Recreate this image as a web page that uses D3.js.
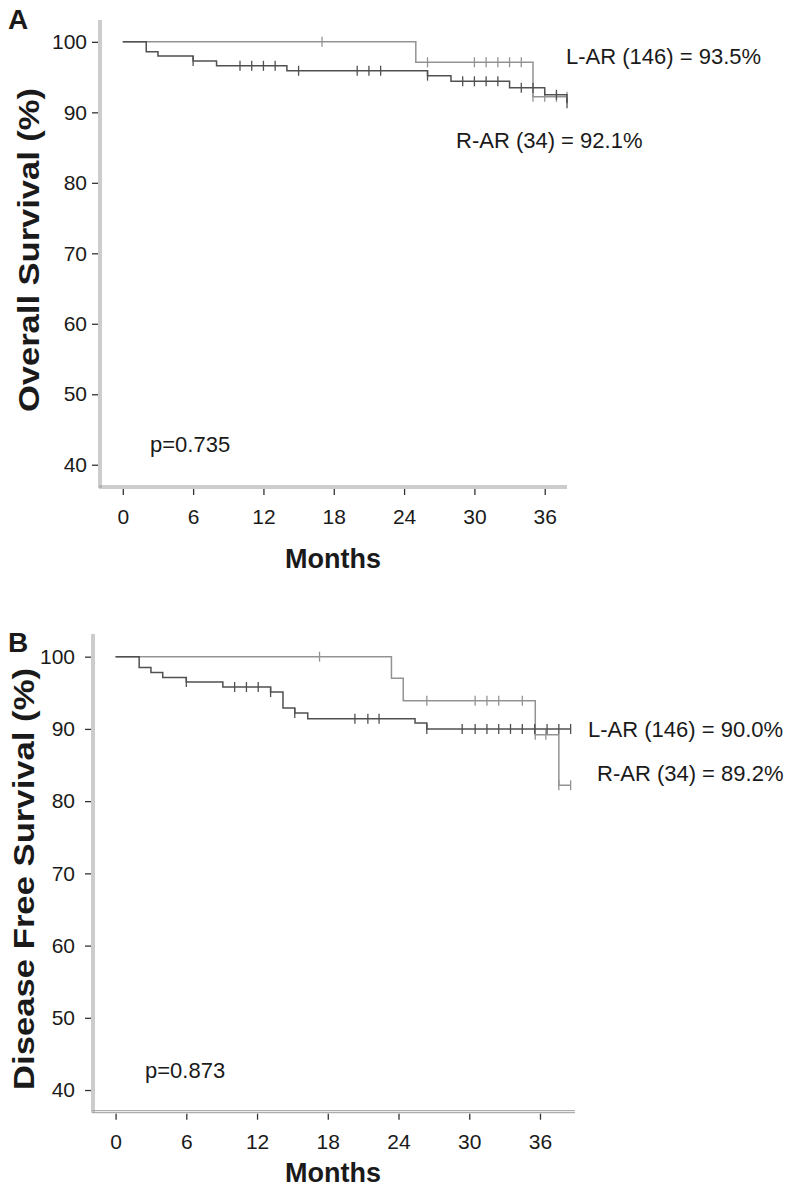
<!DOCTYPE html>
<html><head><meta charset="utf-8">
<script src="https://cdn.jsdelivr.net/npm/d3@7"></script>
<style>body{margin:0;background:#fff} svg{display:block} text{font-family:"Liberation Sans",Arial,Helvetica,sans-serif;fill:#1a1a1a}</style>
</head><body><svg id="c" width="786" height="1187"></svg>
<script>
// ---- shared ticks ----
const monthTicks = [0, 6, 12, 18, 24, 30, 36];
const survTicks = [40, 50, 60, 70, 80, 90, 100];

// ---- Panel A: Overall Survival ----
const osLarTimes = [0, 2, 3, 6, 8, 14, 26, 28, 33, 36, 37.9];
const osLarSurv = [100, 98.6, 98.0, 97.3, 96.6, 95.9, 95.2, 94.4, 93.5, 92.5, 91.3];
const osLarEnd = 37.9;
const osLarCensor = [6, 10, 11, 12, 13, 15, 20, 21, 22, 26, 29, 30, 31, 32, 34, 35, 37, 37.9];
const osRarTimes = [0, 25, 35];
const osRarSurv = [100, 97.1, 92.2];
const osRarEnd = 37.9;
const osRarCensor = [17, 26, 30, 31, 32, 33, 34, 35, 36, 37, 37.9];

// ---- Panel B: Disease Free Survival ----
const dfsLarTimes = [0, 2, 3, 4, 6, 9.1, 13.15, 14.2, 15.2, 16.3, 25.4, 26.4];
const dfsLarSurv = [100, 98.5, 97.8, 97.1, 96.5, 95.8, 95.1, 92.9, 92.2, 91.4, 90.8, 90.0];
const dfsLarEnd = 38.6;
const dfsLarCensor = [6, 10.1, 11.1, 12.1, 13.15, 15.2, 20.3, 21.4, 22.35, 26.4, 29.4, 30.5, 31.5, 32.5, 33.5, 34.5, 35.55, 36.6, 37.6, 38.6];
const dfsRarTimes = [0, 23.4, 24.4, 35.6, 37.6];
const dfsRarSurv = [100, 97.0, 93.9, 89.2, 82.2];
const dfsRarEnd = 38.6;
const dfsRarCensor = [17.3, 26.4, 30.5, 31.5, 32.5, 34.5, 35.6, 36.5, 37.6, 38.6];

const svg = d3.select("#c");
const DARK = "#505050", LIGHT = "#939393";

function survAt(times, surv, t) {
  let v = surv[0];
  for (let i = 0; i < times.length; i++) if (times[i] <= t) v = surv[i];
  return v;
}

function panel(cfg) {
  const g = svg.append("g");
  const x = d3.scaleLinear().domain(cfg.xDom).range(cfg.xRange);
  const y = d3.scaleLinear().domain(cfg.yDom).range(cfg.yRange);
  const [x0, x1] = cfg.xRange, [yb, yt] = cfg.yRange;
  // double-line axes
  [0, 2].forEach(o => {
    g.append("line").attr("x1", x0 + o).attr("x2", x0 + o).attr("y1", yt).attr("y2", yb)
      .attr("stroke", "#9a9a9a").attr("stroke-width", 1);
    g.append("line").attr("x1", x0).attr("x2", x1).attr("y1", yb - o).attr("y2", yb - o)
      .attr("stroke", "#9a9a9a").attr("stroke-width", 1);
  });
  // y axis ticks
  const ya = d3.axisLeft(y).tickValues(survTicks).tickSize(6).tickPadding(cfg.yPad);
  const yg = g.append("g").attr("transform", `translate(${x0 - 1},0)`).call(ya);
  yg.select(".domain").remove();
  yg.selectAll(".tick line").attr("stroke", "#333").attr("stroke-width", 1.3);
  yg.selectAll(".tick text").style("font-size", "21px").attr("fill", "#1a1a1a");
  // x axis ticks
  const xa = d3.axisBottom(x).tickValues(monthTicks).tickSize(6).tickPadding(cfg.xPad);
  const xg = g.append("g").attr("transform", `translate(0,${yb + 1})`).call(xa);
  xg.select(".domain").remove();
  xg.selectAll(".tick line").attr("stroke", "#333").attr("stroke-width", 1.3);
  xg.selectAll(".tick text").style("font-size", "21px").attr("fill", "#1a1a1a");

  const line = d3.line().x(d => x(d[0])).y(d => y(d[1])).curve(d3.curveStepAfter);
  cfg.series.forEach(s => {
    const pts = s.times.map((t, i) => [t, s.surv[i]]);
    pts.push([s.end, s.surv[s.surv.length - 1]]);
    g.append("path").attr("d", line(pts)).attr("fill", "none")
      .attr("stroke", s.color).attr("stroke-width", 1.5);
    g.selectAll(null).data(s.censor).enter().append("line")
      .attr("x1", d => x(d)).attr("x2", d => x(d))
      .attr("y1", d => y(survAt(s.times, s.surv, d)) - 5)
      .attr("y2", d => y(survAt(s.times, s.surv, d)) + 5)
      .attr("stroke", s.color).attr("stroke-width", 1.3);
  });
  // texts
  g.append("text").attr("x", cfg.letter[0]).attr("y", cfg.letter[1]).text(cfg.letterText)
    .style("font-size", "28px").style("font-weight", "bold");
  g.append("text").attr("x", cfg.months[0]).attr("y", cfg.months[1]).attr("text-anchor", "middle")
    .text("Months").style("font-size", "27px").style("font-weight", "bold");
  g.append("text").attr("transform", `translate(${cfg.ytitle[0]},${cfg.ytitle[1]}) rotate(-90)`)
    .attr("text-anchor", "middle").text(cfg.ytitleText)
    .attr("textLength", cfg.ytitle[2]).attr("lengthAdjust", "spacingAndGlyphs")
    .style("font-size", "30px").style("font-weight", "bold");
  cfg.notes.forEach(n => {
    g.append("text").attr("x", n[0]).attr("y", n[1]).text(n[2]).style("font-size", "22px");
  });
}

panel({
  xDom: [-2.03, 37.9], xRange: [99, 567],
  yDom: [36.7, 103.1], yRange: [488, 20],
  yPad: 5, xPad: 14,
  letter: [8, 29], letterText: "A",
  months: [333, 568],
  ytitle: [39, 250, 324], ytitleText: "Overall Survival (%)",
  notes: [[566, 64, "L-AR (146) = 93.5%"], [456, 148, "R-AR (34) = 92.1%"], [150, 452, "p=0.735"]],
  series: [
    {times: osRarTimes, surv: osRarSurv, end: osRarEnd, censor: osRarCensor, color: LIGHT},
    {times: osLarTimes, surv: osLarSurv, end: osLarEnd, censor: osLarCensor, color: DARK}
  ]
});

panel({
  xDom: [-2.0, 38.97], xRange: [92, 575],
  yDom: [36.86, 103.14], yRange: [1112.7, 634],
  yPad: 10, xPad: 14,
  letter: [8, 652], letterText: "B",
  months: [333, 1182],
  ytitle: [34, 879, 422], ytitleText: "Disease Free Survival (%)",
  notes: [[588, 737, "L-AR (146) = 90.0%"], [597, 781, "R-AR (34) = 89.2%"], [145, 1078, "p=0.873"]],
  series: [
    {times: dfsRarTimes, surv: dfsRarSurv, end: dfsRarEnd, censor: dfsRarCensor, color: LIGHT},
    {times: dfsLarTimes, surv: dfsLarSurv, end: dfsLarEnd, censor: dfsLarCensor, color: DARK}
  ]
});
</script></body></html>
